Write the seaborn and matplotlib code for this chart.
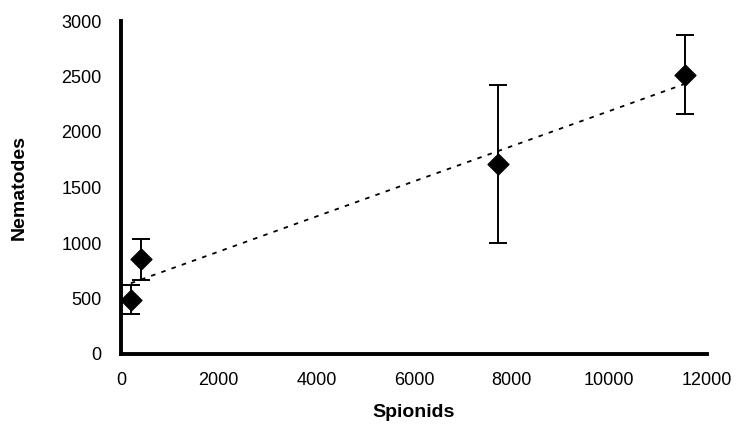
import numpy as np
import pandas as pd
import matplotlib
matplotlib.use("Agg")
import matplotlib.pyplot as plt
import seaborn as sns

spionids = [200, 400, 7730, 11550]
nematodes = [490, 860, 1710, 2510]
err_low = [360, 670, 1000, 2160]
err_high = [620, 1040, 2420, 2870]

x_ticks = [0, 2000, 4000, 6000, 8000, 10000, 12000]
y_ticks = [0, 500, 1000, 1500, 2000, 2500, 3000]

df = pd.DataFrame({"Spionids": spionids, "Nematodes": nematodes})

sns.set_theme(style="white")
plt.rcParams['font.family'] = ['Liberation Sans', 'DejaVu Sans']
plt.rcParams['text.color'] = 'black'
plt.rcParams['axes.labelcolor'] = 'black'

fig = plt.figure(figsize=(7.41, 4.24), dpi=100)
ax = fig.add_axes([121/741, 1-354/424, (707-121)/741, (354-21)/424])

yerr = [np.array(nematodes) - np.array(err_low), np.array(err_high) - np.array(nematodes)]
ax.errorbar(spionids, nematodes, yerr=yerr, fmt='none', ecolor='black',
            elinewidth=1.4, capsize=6.5, capthick=1.4, zorder=2)

sns.regplot(data=df, x="Spionids", y="Nematodes", scatter=False, ci=None, ax=ax,
            truncate=True,
            line_kws=dict(color='black', linestyle=(0, (2.5, 3.5)), linewidth=1.3))

sns.scatterplot(data=df, x="Spionids", y="Nematodes", marker='D', s=115,
                color='black', edgecolor='black', ax=ax, zorder=3)

ax.set_xlim(0, 12000)
ax.set_ylim(0, 3000)
ax.set_xticks(x_ticks)
ax.set_yticks(y_ticks)
ax.set_xticklabels([str(v) for v in x_ticks])
ax.set_yticklabels([str(v) for v in y_ticks])

for s in ['top', 'right']:
    ax.spines[s].set_visible(False)
for s in ['left', 'bottom']:
    ax.spines[s].set_linewidth(2.8)
    ax.spines[s].set_color('black')

ax.tick_params(axis='both', which='both', direction='inout', length=8, width=2.5,
               labelsize=13, colors='black', pad=10)
ax.tick_params(axis='x', pad=9)

ax.set_xlabel("Spionids", fontsize=14, fontweight='bold', labelpad=11)
ax.set_ylabel("Nematodes", fontsize=14, fontweight='bold', labelpad=24)

fig.savefig("out.png", dpi=100)
